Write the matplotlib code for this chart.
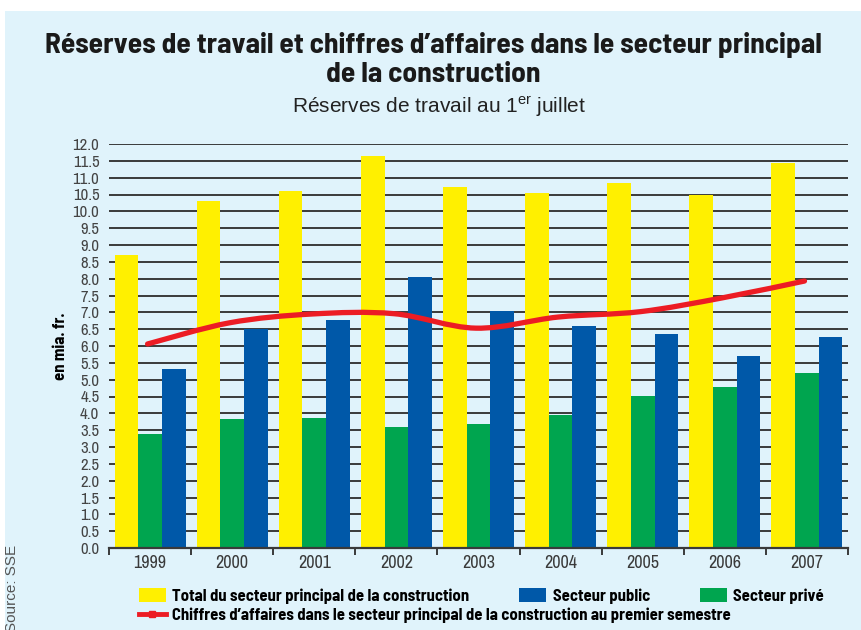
import matplotlib
matplotlib.use("Agg")
import matplotlib.pyplot as plt
import numpy as np
from matplotlib.path import Path
from matplotlib.patches import PathPatch, Rectangle
from matplotlib.lines import Line2D

GRAS = ['Barlow Semi Condensed', 'Liberation Sans', 'DejaVu Sans']
FIN = ['Archivo Narrow', 'Liberation Sans', 'DejaVu Sans']
plt.rcParams['font.family'] = FIN
plt.rcParams['mathtext.fontset'] = 'custom'
plt.rcParams['mathtext.rm'] = 'Liberation Sans'

# donnees (en mia. fr.)
annees = ['1999', '2000', '2001', '2002', '2003', '2004', '2005', '2006', '2007']
total = [8.70, 10.31, 10.60, 11.64, 10.72, 10.54, 10.84, 10.48, 11.43]
prive = [3.39, 3.83, 3.86, 3.59, 3.68, 3.95, 4.51, 4.78, 5.20]
public = [5.32, 6.50, 6.77, 8.05, 7.04, 6.59, 6.36, 5.70, 6.27]
chiffres = [6.06, 6.69, 6.95, 6.96, 6.53, 6.86, 7.02, 7.43, 7.93]

jaune = '#fff000'
vert = '#00a54f'
bleu = '#0058a8'
rouge = '#ec1c24'
fond = '#e0f3fb'


def smooth_path(xs, ys):
    # courbe lissee type catmull-rom passant par les points
    pts = np.column_stack([xs, ys])
    n = len(pts)
    verts = [pts[0]]
    codes = [Path.MOVETO]
    for i in range(n - 1):
        p0 = pts[max(i - 1, 0)]
        p1 = pts[i]
        p2 = pts[i + 1]
        p3 = pts[min(i + 2, n - 1)]
        c1 = p1 + (p2 - p0) / 6.0
        c2 = p2 - (p3 - p1) / 6.0
        verts += [c1, c2, p2]
        codes += [Path.CURVE4] * 3
    return Path(verts, codes)


fig = plt.figure(figsize=(8.62, 6.30), dpi=100, facecolor='white')
fig.patches.append(Rectangle((5 / 862, 0), 1, 1 - 11 / 630, transform=fig.transFigure,
                             facecolor=fond, edgecolor='none', zorder=-10))

ax = fig.add_axes([109 / 862, 82 / 630, 739 / 862, 404 / 630])
ax.set_facecolor(fond)

x = np.arange(len(annees))
w = 0.288
b1 = ax.bar(x - w, total, w, color=jaune, zorder=3)
b2 = ax.bar(x, prive, w, color=vert, zorder=3)
b3 = ax.bar(x + w, public, w, color=bleu, zorder=3)

courbe = PathPatch(smooth_path(x - 0.03, chiffres), facecolor='none', edgecolor=rouge,
                   lw=3.8, capstyle='round', zorder=5)
ax.add_patch(courbe)

ax.set_xlim(-0.5, len(annees) - 0.5)
ax.set_ylim(0, 12)
ax.set_yticks(np.arange(0, 12.01, 0.5))
ax.set_yticklabels(['%.1f' % v for v in np.arange(0, 12.01, 0.5)])
ax.yaxis.grid(True, color='#3a3a3a', lw=1.4, zorder=1)
ax.set_axisbelow(True)
ax.set_xticks(x)
ax.set_xticklabels(annees)
ax.set_xticks(np.arange(-0.5, len(annees), 1.0), minor=True)
ax.tick_params(axis='x', which='major', length=0, pad=5, labelsize=13, labelcolor='#3a3a3a')
ax.tick_params(axis='x', which='minor', length=5, width=1.4, color='#3a3a3a', direction='out')
ax.tick_params(axis='y', length=0, pad=7, labelsize=12, labelcolor='#444444')
for s in ['left', 'right', 'top']:
    ax.spines[s].set_visible(False)
ax.spines['bottom'].set_color('#3a3a3a')
ax.spines['bottom'].set_linewidth(1.6)
ax.spines['bottom'].set_zorder(6)

ax.set_ylabel('en mia. fr.', fontsize=12, fontweight='bold', family=GRAS, labelpad=3)

fig.text(0.503, 1 - 45 / 630, 'Réserves de travail et chiffres d’affaires dans le secteur principal',
         ha='center', va='center', fontsize=21.2, fontweight='bold', color='#1a1a1a', family=GRAS)
fig.text(0.503, 1 - 74 / 630, 'de la construction',
         ha='center', va='center', fontsize=21.2, fontweight='bold', color='#1a1a1a', family=GRAS)
fig.text(0.509, 1 - 107 / 630, r'Réserves de travail au 1$^{\rm er}$ juillet',
         ha='center', va='center', fontsize=15, color='#222222',
         family=['Liberation Sans', 'DejaVu Sans'])

fig.text(12 / 862, 1 - 588 / 630, 'Source: SSE', rotation=90, ha='center', va='center',
         fontsize=11, color='#555555', family=['Liberation Sans', 'DejaVu Sans'])

leg_font = {'weight': 'bold', 'size': 12, 'family': GRAS}
leg1 = fig.legend(handles=[b1, b3, b2],
                  labels=['Total du secteur principal de la construction', 'Secteur public', 'Secteur privé'],
                  loc='center left', bbox_to_anchor=(139 / 862, 1 - 596 / 630), ncol=3,
                  frameon=False, prop=leg_font, handlelength=1.6, handleheight=0.95,
                  handletextpad=0.4, columnspacing=3.0, borderaxespad=0, borderpad=0)
ligne = Line2D([], [], color=rouge, lw=3.5, marker='s', markersize=5)
leg2 = fig.legend(handles=[ligne],
                  labels=['Chiffres d’affaires dans le secteur principal de la construction au premier semestre'],
                  loc='center left', bbox_to_anchor=(139 / 862, 1 - 615 / 630),
                  frameon=False, prop=leg_font, handlelength=1.6,
                  handletextpad=0.4, borderaxespad=0, borderpad=0)

fig.savefig('out.png', dpi=100, facecolor=fig.get_facecolor())
